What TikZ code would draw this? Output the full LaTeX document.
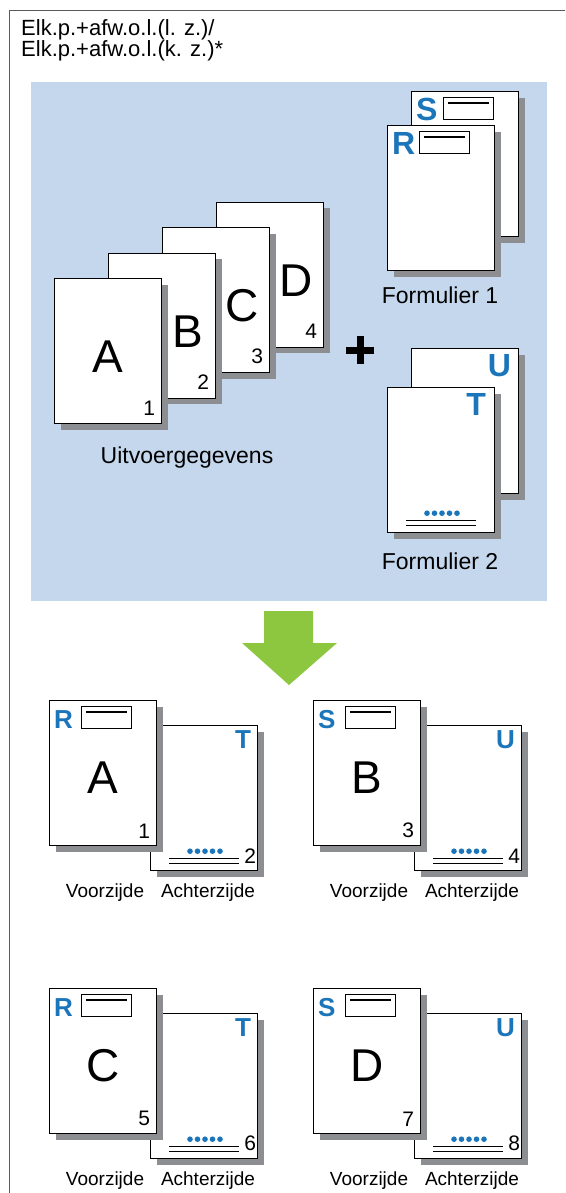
\documentclass[tikz,border=0pt]{standalone}
\usepackage{fontspec}
\setmainfont{Liberation Sans}
\usetikzlibrary{shadows}

\definecolor{panelblue}{RGB}{197,215,237}
\definecolor{formblue}{RGB}{27,117,187}
\definecolor{arrowgreen}{RGB}{141,198,63}
\definecolor{shadowgray}{RGB}{140,142,145}
\definecolor{framegray}{RGB}{90,90,90}

\tikzset{
  page/.style={draw=black, line width=1.2pt, fill=white, anchor=north west, inner sep=0pt,
    minimum width=107pt, minimum height=145pt,
    drop shadow={shadow xshift=6pt, shadow yshift=-6pt, fill=shadowgray, opacity=1}},
  bigletter/.style={font=\fontsize{46}{46}\selectfont, inner sep=0pt},
  pagenum/.style={font=\fontsize{21}{21}\selectfont, inner sep=0pt, anchor=south east},
  formletter/.style={text=formblue, inner sep=0pt, font=\bfseries\fontsize{#1}{#1}\selectfont},
  formletter/.default=32,
  formbox/.style={draw, line width=1.3pt, fill=white, anchor=north west, inner sep=0pt,
    minimum width=50pt, minimum height=22pt},
  caption/.style={font=\fontsize{23}{23}\selectfont},
  sidecaption/.style={font=\fontsize{19}{19}\selectfont},
}

% letter and address box at the top of a form page
\newcommand{\formhead}[4]{%
  \node[formletter=#3, anchor=west] (#1-let) at ([xshift=5pt,yshift=-#4]#1.north west) {#2};
  \node[formbox] (#1-box) at ([xshift=32pt,yshift=-6pt]#1.north west) {};
  \draw[line width=1.3pt] ([xshift=5pt,yshift=-6pt]#1-box.north west) -- ([xshift=-5pt,yshift=-6pt]#1-box.north east);
}
% dots and lines at the foot of a form page
\newcommand{\formfoot}[1]{%
  \foreach \d in {0,...,4}
    \fill[formblue] ([xshift=40pt+\d*7.5pt,yshift=20pt]#1.south west) circle (2.8pt);
  \draw[line width=1.1pt] ([xshift=19pt,yshift=13pt]#1.south west) -- ([xshift=89pt,yshift=13pt]#1.south west);
  \draw[line width=1.1pt] ([xshift=19pt,yshift=8pt]#1.south west) -- ([xshift=89pt,yshift=8pt]#1.south west);
}

\begin{document}
\begin{tikzpicture}[x=1pt,y=-1pt]
  \useasboundingbox (0,0) rectangle (565,1193);

  % frame, heading and panel
  \draw[framegray, line width=1.5pt] (565,10.5) -- (9.5,10.5) -- (9.5,1193);
  \node[anchor=base west, inner sep=0pt, font=\fontsize{22}{22}\selectfont] (head1) at (21,36) {Elk.p.+afw.o.l.(l. z.)/};
  \node[anchor=base west, inner sep=0pt, font=\fontsize{22}{22}\selectfont] (head2) at (21,57) {Elk.p.+afw.o.l.(k. z.)*};
  \fill[panelblue] (31,82) rectangle (547,601);

  % output data
  \foreach \k/\ltr/\nm in {3/D/4,2/C/3,1/B/2,0/A/1}{
    \pgfmathsetmacro{\lx}{\k==0 ? 53.5 : 80}
    \node[page] (data\ltr) at (54+54*\k,278-25.5*\k) {};
    \node[bigletter] (data\ltr-let) at ([xshift=\lx pt,yshift=-79pt]data\ltr.north west) {\ltr};
    \node[pagenum] (data\ltr-num) at ([xshift=-7pt,yshift=9pt]data\ltr.south east) {\nm};
  }
  \node[caption] (datalabel) at (187,458) {Uitvoergegevens};

  \draw[line width=7pt] (346,350) -- (374,350) (360,336) -- (360,364);

  % Formulier 1
  \node[page] (s1) at (411,91) {};
  \formhead{s1}{S}{32}{18pt}
  \node[page] (r1) at (387,125) {};
  \formhead{r1}{R}{32}{18.5pt}
  \node[caption] (form1) at (440,295) {Formulier 1};

  % Formulier 2
  \node[page] (u2) at (411,348) {};
  \node[formletter, anchor=east] (u2-let) at ([xshift=-8pt,yshift=-17.5pt]u2.north east) {U};
  \node[page] (t2) at (387,387) {};
  \node[formletter, anchor=east] (t2-let) at ([xshift=-9pt,yshift=-17.5pt]t2.north east) {T};
  \formfoot{t2}
  \node[caption] (form2) at (440,561) {Formulier 2};

  \fill[arrowgreen] (264,611) -- (313,611) -- (313,643) -- (337,643) -- (289,685) -- (242,643) -- (264,643) -- cycle;

  % printed result
  \foreach \i/\j/\ltr/\fr/\bk/\nm in {0/0/A/R/T/1,1/0/B/S/U/3,0/1/C/R/T/5,1/1/D/S/U/7}{
    \pgfmathtruncatemacro{\nb}{\nm+1}
    \pgfmathsetmacro{\px}{49+264*\i}
    \pgfmathsetmacro{\py}{700+288*\j}
    \node[page] (back\ltr) at (\px+101,\py+25) {};
    \node[formletter=26, anchor=east] (back\ltr-let) at ([xshift=-7pt,yshift=-14.5pt]back\ltr.north east) {\bk};
    \formfoot{back\ltr}
    \node[pagenum] (back\ltr-num) at ([xshift=-2pt,yshift=8pt]back\ltr.south east) {\nb};
    \node[page] (front\ltr) at (\px,\py) {};
    \formhead{front\ltr}{\fr}{26}{20pt}
    \node[bigletter] (front\ltr-big) at ([yshift=-5pt]front\ltr.center) {\ltr};
    \node[pagenum] (front\ltr-num) at ([xshift=-7pt,yshift=8pt]front\ltr.south east) {\nm};
    \node[sidecaption] (front\ltr-cap) at (\px+56,\py+193) {Voorzijde};
    \node[sidecaption] (back\ltr-cap) at (\px+159,\py+193) {Achterzijde};
  }
\end{tikzpicture}
\end{document}
